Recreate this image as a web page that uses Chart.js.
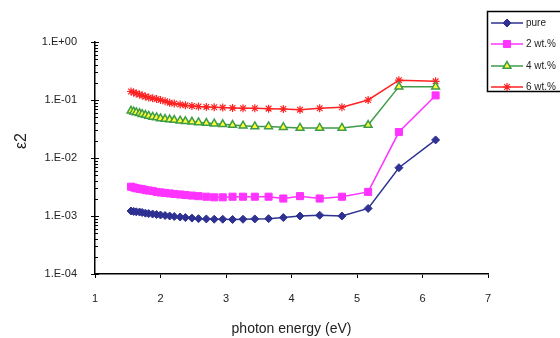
<!DOCTYPE html>
<html>
<head>
<meta charset="utf-8">
<script src="https://cdn.jsdelivr.net/npm/chart.js@4"></script>
<style>
  body { margin: 0; background: #fff; }
  canvas { display: block; }
</style>
</head>
<body>
<canvas id="eps2Chart" width="560" height="338"></canvas>
<script>
// photon energy (eV), 800 nm down to 200 nm
const energy = [1.55, 1.59, 1.63, 1.68, 1.72, 1.77, 1.82, 1.88, 1.94, 2.00,
                2.07, 2.14, 2.21, 2.30, 2.38, 2.48, 2.58, 2.70, 2.82, 2.95,
                3.10, 3.26, 3.44, 3.65, 3.875, 4.13, 4.43, 4.77, 5.17, 5.64, 6.20];

const pure = [1.22e-3, 1.2e-3, 1.18e-3, 1.17e-3, 1.15e-3, 1.12e-3, 1.1e-3, 1.08e-3, 1.06e-3, 1.04e-3,
              1.02e-3, 1.0e-3, 0.98e-3, 0.96e-3, 0.94e-3, 0.92e-3, 0.9e-3, 0.89e-3, 0.88e-3, 0.88e-3,
              0.87e-3, 0.88e-3, 0.89e-3, 0.9e-3, 0.94e-3, 1.0e-3, 1.03e-3, 1.0e-3, 1.35e-3, 6.8e-3, 2.05e-2];

const wt2 = [3.2e-3, 3.1e-3, 3.0e-3, 2.95e-3, 2.9e-3, 2.8e-3, 2.75e-3, 2.7e-3, 2.6e-3, 2.55e-3,
             2.5e-3, 2.45e-3, 2.4e-3, 2.35e-3, 2.3e-3, 2.25e-3, 2.2e-3, 2.15e-3, 2.1e-3, 2.1e-3,
             2.15e-3, 2.15e-3, 2.15e-3, 2.15e-3, 2.0e-3, 2.2e-3, 2.0e-3, 2.15e-3, 2.6e-3, 2.8e-2, 0.12];

const wt4 = [0.065, 0.063, 0.061, 0.059, 0.057, 0.055, 0.053, 0.051, 0.05, 0.048,
             0.047, 0.046, 0.045, 0.044, 0.043, 0.042, 0.041, 0.040, 0.039, 0.038,
             0.037, 0.036, 0.035, 0.035, 0.034, 0.033, 0.033, 0.033, 0.037, 0.17, 0.17];

const wt6 = [0.14, 0.135, 0.13, 0.125, 0.12, 0.115, 0.11, 0.107, 0.104, 0.1,
             0.095, 0.09, 0.087, 0.084, 0.081, 0.079, 0.077, 0.076, 0.075, 0.074,
             0.073, 0.072, 0.072, 0.071, 0.07, 0.068, 0.072, 0.075, 0.1, 0.22, 0.21];

const seriesNames = ["pure", "2 wt.%", "4 wt.%", "6 wt.%"];
const xTicks = [1, 2, 3, 4, 5, 6, 7];
const yTicks = [1e-4, 1e-3, 1e-2, 1e-1, 1];

const FONT = "'Liberation Sans', Arial, sans-serif";
const TEXT = "#222";

const toPoints = vals => vals.map((v, i) => ({ x: energy[i], y: v }));

function sciLabel(v) {
  const e = Math.round(Math.log10(v));
  return "1.E" + (e < 0 ? "-" : "+") + String(Math.abs(e)).padStart(2, "0");
}

// decade ticks cross the axis, minor ticks sit inside
const yTickMarks = {
  id: "yTickMarks",
  afterDraw(chart) {
    const y = chart.scales.y, x0 = chart.chartArea.left, ctx = chart.ctx;
    ctx.save();
    ctx.strokeStyle = "#000";
    ctx.lineWidth = 1;
    for (let e = -4; e <= 0; e++) {
      for (let m = 1; m <= 9; m++) {
        const v = m * Math.pow(10, e);
        if (v > 1) break;
        const py = Math.round(y.getPixelForValue(v)) + 0.5;
        ctx.beginPath();
        ctx.moveTo(m === 1 ? x0 - 4 : x0, py);
        ctx.lineTo(m === 1 ? x0 + 4 : x0 + 3, py);
        ctx.stroke();
      }
    }
    // axis title
    ctx.fillStyle = TEXT;
    ctx.font = "16px " + FONT;
    ctx.textAlign = "center";
    ctx.textBaseline = "middle";
    ctx.translate(22, 141);
    ctx.rotate(-Math.PI / 2);
    ctx.fillText("ε2", 0, 0);
    ctx.restore();
  }
};

// boxed legend in the top right corner
const boxLegend = {
  id: "boxLegend",
  afterDraw(chart) {
    const ctx = chart.ctx;
    const rows = [23, 44, 66, 87];
    ctx.save();
    ctx.fillStyle = "#fff";
    ctx.fillRect(487.5, 11.5, 80, 80);
    ctx.strokeStyle = "#000";
    ctx.lineWidth = 1.5;
    ctx.strokeRect(487.5, 11.5, 80, 80);
    chart.data.datasets.forEach((ds, i) => {
      const y = rows[i];
      ctx.strokeStyle = ds.borderColor;
      ctx.lineWidth = ds.borderWidth;
      ctx.beginPath();
      ctx.moveTo(491, y);
      ctx.lineTo(523, y);
      ctx.stroke();
      ctx.fillStyle = ds.pointBackgroundColor;
      ctx.strokeStyle = ds.pointBorderColor;
      ctx.lineWidth = ds.pointBorderWidth;
      Chart.helpers.drawPoint(ctx, {
        pointStyle: ds.pointStyle, radius: ds.pointRadius,
        borderWidth: ds.pointBorderWidth, rotation: 0
      }, 507, y);
      ctx.fillStyle = TEXT;
      ctx.font = "10px " + FONT;
      ctx.textAlign = "left";
      ctx.textBaseline = "middle";
      ctx.fillText(ds.label, 526, y);
    });
    ctx.restore();
  }
};

function series(label, data, color, style, radius, fill, bw) {
  return {
    label, data: toPoints(data),
    borderColor: color, borderWidth: 1.5,
    pointStyle: style, pointRadius: radius,
    pointBackgroundColor: fill, pointBorderColor: color,
    pointBorderWidth: bw, tension: 0
  };
}

new Chart(document.getElementById("eps2Chart"), {
  type: "line",
  data: {
    datasets: [
      series(seriesNames[0], pure, "#2E3192", "rectRot", 4, "#2E3192", 1),
      series(seriesNames[1], wt2, "#FF33FF", "rect", 5, "#FF33FF", 1),
      series(seriesNames[2], wt4, "#3E9B4A", "triangle", 4.5, "#FFFF33", 1.5),
      series(seriesNames[3], wt6, "#FF2222", "star", 4, "#FF2222", 1.2)
    ]
  },
  options: {
    responsive: false,
    animation: false,
    layout: { padding: { top: 42, right: 72, left: 0, bottom: 0 } },
    plugins: { legend: { display: false }, tooltip: { enabled: false } },
    scales: {
      x: {
        type: "linear", min: 1, max: 7,
        afterBuildTicks: s => { s.ticks = xTicks.map(v => ({ value: v })); },
        afterFit: s => { s.height = 64; },
        ticks: { color: TEXT, font: { family: FONT, size: 11 }, padding: 14 },
        grid: { display: true, drawOnChartArea: false, tickLength: 4, color: "#000" },
        border: { color: "#000", width: 1.5 },
        title: {
          display: true, text: "photon energy (eV)", color: TEXT,
          font: { family: FONT, size: 14 }, padding: { top: 0, bottom: 0 }
        }
      },
      y: {
        type: "logarithmic", min: 1e-4, max: 1,
        afterBuildTicks: s => { s.ticks = yTicks.map(v => ({ value: v })); },
        afterFit: s => { s.width = 95; },
        ticks: { color: TEXT, font: { family: FONT, size: 11 }, padding: 10, callback: v => sciLabel(v) },
        grid: { display: false },
        border: { color: "#000", width: 1.5 }
      }
    }
  },
  plugins: [yTickMarks, boxLegend]
});
</script>
</body>
</html>
